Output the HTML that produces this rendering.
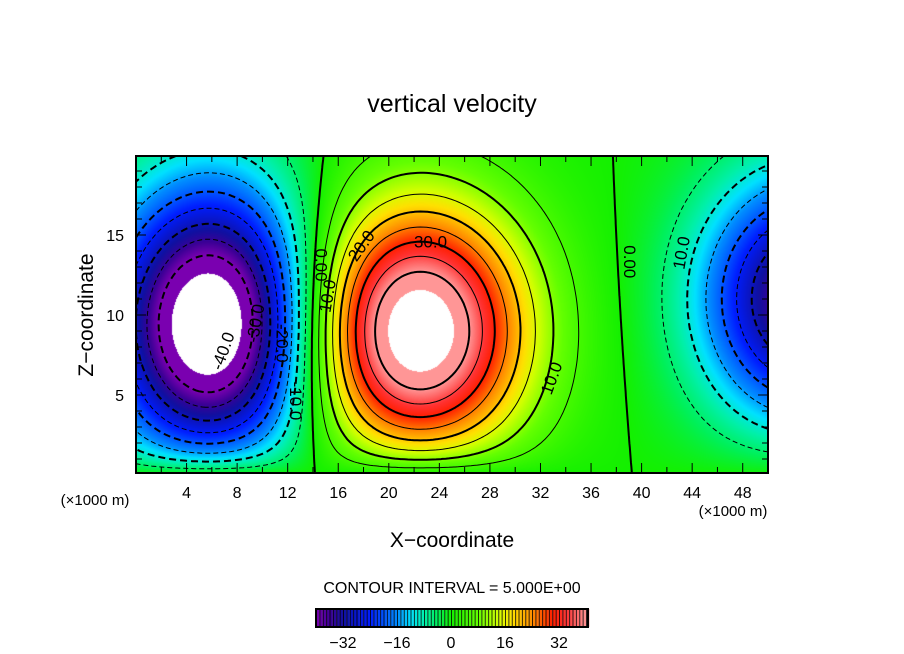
<!DOCTYPE html>
<html><head><meta charset="utf-8"><style>
body{margin:0;background:#fff;width:904px;height:654px;overflow:hidden;font-family:"Liberation Sans",sans-serif}
#wrap{position:relative;width:904px;height:654px}
canvas{position:absolute}
svg{position:absolute;left:0;top:0}
text{font-family:"Liberation Sans",sans-serif;fill:#000}
</style></head><body>
<div id="wrap">
<canvas id="field" width="632" height="317" style="left:136px;top:156px"></canvas>
<svg id="svg" width="904" height="654"></svg>
</div>
<script>
// Data: vortex cells (x in km, z in km, amplitude)
const cellX = [6, 22.2, 53];
const cellZ = [9.4, 9, 11];
const cellAmp = [-53, 51, -40];
const cellSx = [8, 8.5, 8];
const cellSz = [8.5, 7.8, 7.5];
const levels = [-40,-35,-30,-25,-20,-15,-10,-5,0,5,10,15,20,25,30,35,40];
const xTicks = [4,8,12,16,20,24,28,32,36,40,44,48];
const zTicks = [5,10,15];
const cbTicks = [-32,-16,0,16,32];
const contourLabels = [["0.00",14.2,13.5,90],["10.0",15.6,11.5,-80],["20.0",18.2,14.5,-55],["30.0",23.3,14.6,0],["10.0",33.3,6.3,-70],["0.00",38.6,13.7,90],["10.0",43.6,14.2,-80],["-40.0",7.3,8.0,-70],["-30.0",9.9,9.8,-80],["-20.0",11.1,8.6,90],["-10.0",12.2,5.0,90]];

const X0=136,X1=768,Y0=156,Y1=473;
const sx=x=>X0+(x)*(X1-X0)/50;
const sy=z=>475-16*z;
function field(x,z){
  let w=0;
  for(let i=0;i<cellX.length;i++){
    const dx=(x-cellX[i])/cellSx[i], dz=(z-cellZ[i])/cellSz[i];
    w+=cellAmp[i]*Math.exp(-dx*dx-dz*dz);
  }
  return w*(1-Math.exp(-z/1.1));
}
const stops=[[-40,[122,0,176]],[-36,[60,0,150]],[-32,[16,16,160]],[-24,[0,30,255]],[-16,[0,140,255]],[-12,[0,225,255]],[-8,[0,240,170]],[-4,[0,240,90]],[0,[20,240,0]],[8,[100,255,0]],[14,[210,255,0]],[18,[255,224,0]],[24,[255,140,0]],[30,[255,30,0]],[34,[255,50,50]],[40,[255,150,150]]];
function color(v){
  if(Math.abs(v)>45) return [255,255,255];
  if(v<=stops[0][0]) return stops[0][1];
  for(let i=1;i<stops.length;i++){
    if(v<=stops[i][0]){
      const a=stops[i-1],b=stops[i],t=(v-a[0])/(b[0]-a[0]);
      return a[1].map((c,k)=>Math.round(c+(b[1][k]-c)*t));
    }
  }
  return stops[stops.length-1][1];
}
const cv=document.getElementById('field'),ctx=cv.getContext('2d');
const img=ctx.createImageData(632,317);
for(let py=0;py<317;py++){for(let px=0;px<632;px++){
  const x=(px+0.5)*50/632, z=(475-(Y0+py+0.5))/16;
  const c=color(field(x,z)); const o=(py*632+px)*4;
  img.data[o]=c[0];img.data[o+1]=c[1];img.data[o+2]=c[2];img.data[o+3]=255;
}}
ctx.putImageData(img,0,0);

const svg=document.getElementById('svg');const NS='http://www.w3.org/2000/svg';
function mk(tag,attrs,parent){const e=document.createElementNS(NS,tag);for(const k in attrs)e.setAttribute(k,attrs[k]);(parent||svg).appendChild(e);return e;}
function txt(s,x,y,size,anchor,rot){const t=mk('text',{x:x,y:y,'font-size':size,'text-anchor':anchor||'middle'});if(rot)t.setAttribute('transform','rotate('+rot+' '+x+' '+y+')');t.textContent=s;return t;}

const NX=200,NZ=80,dx=50/NX,zTop=(475-Y0)/16,dz=zTop/NZ;
const G=[];for(let j=0;j<=NZ;j++){G[j]=[];for(let i=0;i<=NX;i++)G[j][i]=field(i*dx,Math.max(j*dz,0.0001));}
const defs=mk('defs',{});const cp=mk('clipPath',{id:'clip'},defs);mk('rect',{x:X0,y:Y0,width:X1-X0,height:Y1-Y0},cp);
const cg=mk('g',{'clip-path':'url(#clip)'});
function chain(segs){
  const adj=new Map();
  segs.forEach((s,idx)=>{[s[0],s[2]].forEach(k=>{if(!adj.has(k))adj.set(k,[]);adj.get(k).push(idx);});});
  const used=new Array(segs.length).fill(false);const lines=[];
  function walk(startKey,idx,out){
    let key=startKey;
    while(idx!==undefined&&!used[idx]){
      used[idx]=true;const s=segs[idx];
      let nk,np; if(s[0]===key){nk=s[2];np=s[3];}else{nk=s[0];np=s[1];}
      out.push(np);key=nk;
      idx=(adj.get(key)||[]).find(n=>!used[n]);
    }
  }
  for(let i=0;i<segs.length;i++){if(used[i])continue;
    const fwd=[segs[i][1]];const s=segs[i];
    walk(s[0],i,fwd);
    const bwd=[];let nxt=(adj.get(s[0])||[]).find(n=>!used[n]);
    walk(s[0],nxt,bwd);
    lines.push(bwd.reverse().concat(fwd));
  }
  return lines;
}
levels.forEach(L=>{
  const segs=[];
  const ek=(i1,j1,i2,j2)=>i1<i2||(i1===i2&&j1<j2)?i1+','+j1+','+i2+','+j2:i2+','+j2+','+i1+','+j1;
  for(let j=0;j<NZ;j++)for(let i=0;i<NX;i++){
    const v=[G[j][i],G[j][i+1],G[j+1][i+1],G[j+1][i]];
    const p=[[i,j],[i+1,j],[i+1,j+1],[i,j+1]];
    const pts=[];
    for(let e=0;e<4;e++){const a=v[e],b=v[(e+1)%4];
      if((a<L)!==(b<L)){const t=(L-a)/(b-a);const pa=p[e],pb=p[(e+1)%4];
        pts.push([ek(pa[0],pa[1],pb[0],pb[1]),[sx((pa[0]+(pb[0]-pa[0])*t)*dx),sy((pa[1]+(pb[1]-pa[1])*t)*dz)]]);}}
    for(let k=0;k+1<pts.length;k+=2)segs.push([pts[k][0],pts[k][1],pts[k+1][0],pts[k+1][1]]);
  }
  let d='';
  chain(segs).forEach(l=>{l.forEach((p,k)=>{d+=(k?'L':'M')+p[0].toFixed(1)+' '+p[1].toFixed(1);});});
  const major=L%10===0;
  const path=mk('path',{d:d,fill:'none',stroke:'#000','stroke-width':major?2:1,'stroke-linejoin':'round'},cg);
  if(L<0)path.setAttribute('stroke-dasharray',major?'7 4':'5 3');
  
  
});
contourLabels.forEach(l=>{
  const x=sx(l[1]),y=sy(l[2]);
  const t=txt(l[0],x,y+6,17,'middle',l[3]);
  
  
});
mk('rect',{x:X0,y:Y0,width:X1-X0,height:Y1-Y0,fill:'none',stroke:'#000','stroke-width':2,});
const tk=mk('g',{stroke:'#000','stroke-width':1,});
for(let x=2;x<50;x+=2){const L=x%4===0?10:6;mk('line',{x1:sx(x),x2:sx(x),y1:Y1,y2:Y1-L},tk);mk('line',{x1:sx(x),x2:sx(x),y1:Y0,y2:Y0+L},tk);}
for(let z=1;z<20;z++){const L=z%5===0?10:6;mk('line',{x1:X0,x2:X0+L,y1:sy(z),y2:sy(z)},tk);mk('line',{x1:X1,x2:X1-L,y1:sy(z),y2:sy(z)},tk);}
xTicks.forEach(v=>{const t=txt(String(v),sx(v),498,16);});
zTicks.forEach(v=>{const t=txt(String(v),124,sy(v)+6,16,'end');});
let t;
t=txt('(×1000 m)',95,505,15);
t=txt('(×1000 m)',733,516,15);
t=txt('vertical velocity',452,112,25);
t=txt('X\u2212coordinate',452,547,21);
t=txt('Z\u2212coordinate',93,315,21,'middle',-90);
t=txt('CONTOUR INTERVAL = 5.000E+00',452,593,16);
const cbx=v=>451+v*3.375;
const cb=mk('g',{});
for(let v=-40;v<40.6;v+=1){const c=color(v+0.5);mk('rect',{x:cbx(v),y:609,width:3.4,height:18,fill:'rgb('+c.join(',')+')'},cb);mk('line',{x1:cbx(v)+0.5,x2:cbx(v)+0.5,y1:609,y2:627,stroke:'#000','stroke-width':1,'stroke-opacity':0.8},cb);}
mk('rect',{x:316,y:609,width:272,height:18,fill:'none',stroke:'#000','stroke-width':2},cb);
cbTicks.forEach(v=>{const t=txt(String(v).replace('-','\u2212'),cbx(v),648,16);});
</script>
</body></html>
